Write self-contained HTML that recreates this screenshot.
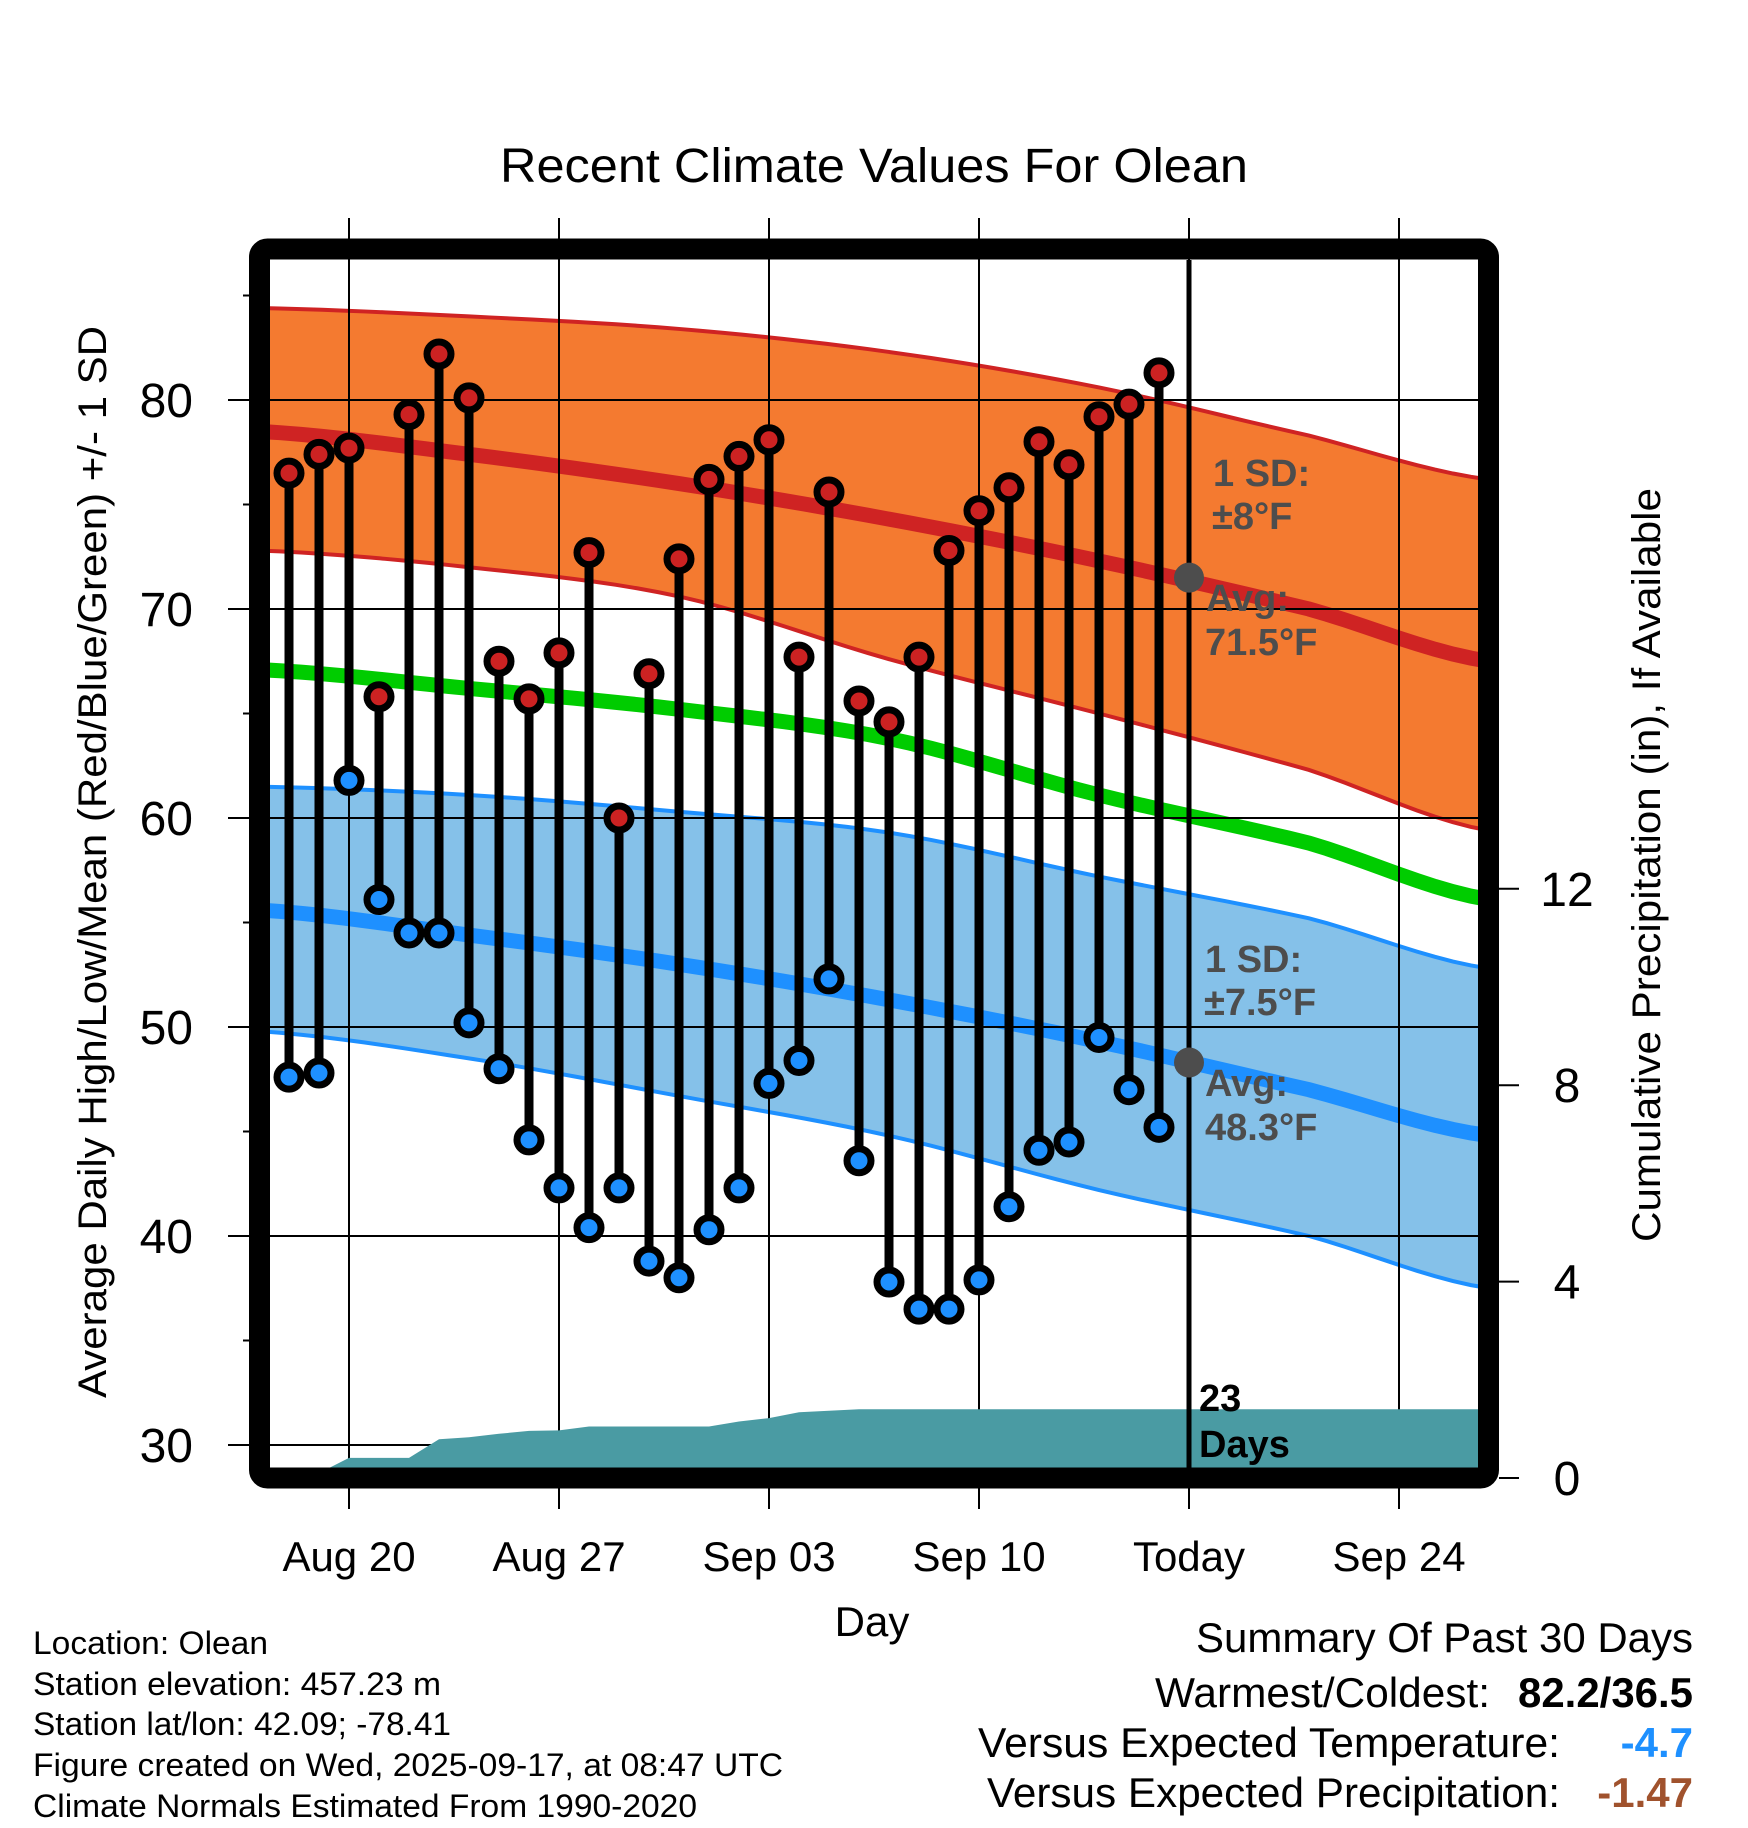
<!DOCTYPE html>
<html><head><meta charset="utf-8"><style>
html,body{margin:0;padding:0;background:#fff;}
svg{display:block;font-family:"Liberation Sans",Arial,sans-serif;}
</style></head><body>
<svg id="chart" width="1748" height="1828" viewBox="0 0 1748 1828">
<defs><clipPath id="plotclip"><rect x="270" y="260" width="1208" height="1208"/></clipPath></defs>
<g id="bands" clip-path="url(#plotclip)"></g>
<g id="grid"></g>
<g id="precip" clip-path="url(#plotclip)"></g>
<g id="stems"></g>
<g id="annot"></g>
<rect x="259.5" y="249" width="1229" height="1229" rx="8" fill="none" stroke="#000" stroke-width="21"/>
<g id="axes"></g>
<text x="874" y="182" font-size="48" text-anchor="middle" textLength="748" lengthAdjust="spacingAndGlyphs">Recent Climate Values For Olean</text>
<text transform="translate(106,862) rotate(-90)" font-size="40" text-anchor="middle" textLength="1072" lengthAdjust="spacingAndGlyphs">Average Daily High/Low/Mean (Red/Blue/Green) +/- 1 SD</text>
<text transform="translate(1660,865) rotate(-90)" font-size="40" text-anchor="middle" textLength="754" lengthAdjust="spacingAndGlyphs">Cumulative Precipitation (in), If Available</text>
<text x="872" y="1636" font-size="42" text-anchor="middle">Day</text>
<g font-size="32">
<text x="33" y="1654" textLength="235" lengthAdjust="spacingAndGlyphs">Location: Olean</text>
<text x="33" y="1695" textLength="408" lengthAdjust="spacingAndGlyphs">Station elevation: 457.23 m</text>
<text x="33" y="1735" textLength="418" lengthAdjust="spacingAndGlyphs">Station lat/lon: 42.09; -78.41</text>
<text x="33" y="1776" textLength="750" lengthAdjust="spacingAndGlyphs">Figure created on Wed, 2025-09-17, at 08:47 UTC</text>
<text x="33" y="1817" textLength="664" lengthAdjust="spacingAndGlyphs">Climate Normals Estimated From 1990-2020</text>
</g>
<g font-size="42">
<text x="1693" y="1652" text-anchor="end" textLength="497" lengthAdjust="spacingAndGlyphs">Summary Of Past 30 Days</text>
<text x="1490" y="1707" text-anchor="end" textLength="335" lengthAdjust="spacingAndGlyphs">Warmest/Coldest:</text>
<text x="1693" y="1707" text-anchor="end" font-weight="bold" textLength="175" lengthAdjust="spacingAndGlyphs">82.2/36.5</text>
<text x="1560" y="1757" text-anchor="end" textLength="582" lengthAdjust="spacingAndGlyphs">Versus Expected Temperature:</text>
<text x="1693" y="1757" text-anchor="end" font-weight="bold" fill="#1e90ff">-4.7</text>
<text x="1560" y="1807" text-anchor="end" textLength="573" lengthAdjust="spacingAndGlyphs">Versus Expected Precipitation:</text>
<text x="1693" y="1807" text-anchor="end" font-weight="bold" fill="#a0522d">-1.47</text>
</g>
</svg>
<script>
// Normals sampled at day offsets from Aug 17
const normalDays = [0, 7, 14, 21, 28, 35, 41];
const highUpper = [84.4, 84.0, 83.4, 82.3, 80.6, 78.3, 76.2];
const highAvg   = [78.5, 77.4, 76.0, 74.3, 72.3, 70.0, 67.5];
const highLower = [72.8, 72.0, 70.6, 67.6, 65.0, 62.3, 59.4];
const meanAvg   = [67.1, 66.2, 65.2, 63.8, 61.1, 58.8, 56.1];
const lowUpper  = [61.5, 61.1, 60.3, 59.3, 57.2, 55.2, 52.8];
const lowAvg    = [55.6, 54.4, 53.0, 51.3, 49.3, 47.0, 44.8];
const lowLower  = [49.8, 48.5, 46.7, 44.8, 42.2, 40.0, 37.5];
// Observed days Aug 18 .. Sep 16
const obsDays = [1,2,3,4,5,6,7,8,9,10,11,12,13,14,15,16,17,18,19,20,21,22,23,24,25,26,27,28,29,30];
const highs = [76.5,77.4,77.7,65.8,79.3,82.2,80.1,67.5,65.7,67.9,72.7,60.0,66.9,72.4,76.2,77.3,78.1,67.7,75.6,65.6,64.6,67.7,72.8,74.7,75.8,78.0,76.9,79.2,79.8,81.3];
const lows  = [47.6,47.8,61.8,56.1,54.5,54.5,50.2,48.0,44.6,42.3,40.4,42.3,38.8,38.0,40.3,42.3,47.3,48.4,52.3,43.6,37.8,36.5,36.5,37.9,41.4,44.1,44.5,49.5,47.0,45.2];
const precipCum = [0,0.1,0.41,0.41,0.41,0.79,0.83,0.90,0.96,0.97,1.05,1.05,1.05,1.05,1.05,1.15,1.22,1.34,1.37,1.40,1.40,1.40,1.40,1.40,1.40,1.40,1.40,1.40,1.40,1.40];
const yTicks = [30,40,50,60,70,80];
const yMinor = [35,45,55,65,75,85];
const precipTicks = [0,4,8,12];
const xTickDays = [3,10,17,24,31,38];
const xTickLabels = ["Aug 20","Aug 27","Sep 03","Sep 10","Today","Sep 24"];
const todayDay = 31;
const todayHigh = 71.5, todayLow = 48.3;

const NS = "http://www.w3.org/2000/svg";
const X = d => 259 + 30 * d;
const Y = t => 400 + (80 - t) * 20.9;
const YP = p => 1478 - p * 49.1;
function mk(tag, attrs, parent) {
  const e = document.createElementNS(NS, tag);
  for (const k in attrs) e.setAttribute(k, attrs[k]);
  parent.appendChild(e);
  return e;
}
// smooth (Catmull-Rom) sampling of a normals series for rendering
function smooth(vals) {
  const out = [];
  const n = normalDays.length;
  for (let i = 0; i < n - 1; i++) {
    const d0 = normalDays[i], d1 = normalDays[i+1];
    const p0 = vals[Math.max(i-1,0)], p1 = vals[i], p2 = vals[i+1], p3 = vals[Math.min(i+2,n-1)];
    const steps = 10;
    for (let s = 0; s < steps; s++) {
      const t = s / steps;
      const v = 0.5*((2*p1) + (-p0+p2)*t + (2*p0-5*p1+4*p2-p3)*t*t + (-p0+3*p1-3*p2+p3)*t*t*t);
      out.push([X(d0 + (d1-d0)*t), Y(v)]);
    }
  }
  out.push([X(normalDays[n-1]), Y(vals[n-1])]);
  return out;
}
const bands = document.getElementById('bands');
function line(vals) { return smooth(vals).map(p=>p[0]+','+p[1]).join(' '); }
function band(up, lo, fill, edge, name) {
  const pts = smooth(up).concat(smooth(lo).reverse()).map(p=>p[0]+','+p[1]);
  const p = mk('polygon', {points: pts.join(' '), fill: fill}, bands);
  
  
  [up, lo].forEach(v => {
    const l = mk('polyline', {points: line(v), fill: 'none', stroke: edge, 'stroke-width': 4}, bands);
    
    
  });
}
band(highUpper, highLower, '#f47a30', '#cf2323', 'high-sd-band');
band(lowUpper, lowLower, '#85c1e9', '#1e90ff', 'low-sd-band');
[[highAvg,'#cf2323','normal-high-line'],[meanAvg,'#00cc00','normal-mean-line'],[lowAvg,'#1e90ff','normal-low-line']].forEach(a => {
  const l = mk('polyline', {points: line(a[0]), fill: 'none', stroke: a[1], 'stroke-width': 15}, bands);
  
  
});

const grid = document.getElementById('grid');
yTicks.forEach(t => {
  const l = mk('line', {x1: 228, x2: 1478, y1: Y(t), y2: Y(t), stroke: '#000', 'stroke-width': 2}, grid);
  
  
});
xTickDays.forEach(d => {
  const l = mk('line', {x1: X(d), x2: X(d), y1: 218, y2: 1509, stroke: '#000', 'stroke-width': 2}, grid);
  
  
});

const precip = document.getElementById('precip');
const pp = ['270,' + YP(0), X(0) + ',' + YP(0)].concat(obsDays.map((d,i)=>X(d)+','+YP(precipCum[i])));
pp.push('1480,' + YP(precipCum[precipCum.length-1]), '1480,' + YP(0));
const pa = mk('polygon', {points: pp.join(' '), fill: '#4a9ba3'}, precip);



const stems = document.getElementById('stems');
obsDays.forEach((d,i) => {
  const s = mk('line', {x1: X(d), x2: X(d), y1: Y(highs[i]), y2: Y(lows[i]), stroke: '#000', 'stroke-width': 9}, stems);
  
  
  const h = mk('circle', {cx: X(d), cy: Y(highs[i]), r: 12, fill: '#cc2222', stroke: '#000', 'stroke-width': 7}, stems);
  
  
  const lo = mk('circle', {cx: X(d), cy: Y(lows[i]), r: 12, fill: '#1e90ff', stroke: '#000', 'stroke-width': 7}, stems);
  
  
});

const annot = document.getElementById('annot');
const tl = mk('line', {x1: X(todayDay), x2: X(todayDay), y1: 260, y2: 1468, stroke: '#000', 'stroke-width': 5}, annot);


[todayHigh, todayLow].forEach(v => {
  const c = mk('circle', {cx: X(todayDay), cy: Y(v), r: 15, fill: '#4d4d4d'}, annot);
  
  
});
function txt(x, y, s, attrs, name) {
  const t = mk('text', Object.assign({x: x, y: y}, attrs), annot);
  t.textContent = s;
  
  
  return t;
}
const g = {'font-size': 38, 'font-weight': 'bold', fill: '#4d4d4d'};
txt(1213, 486, '1 SD:', g, 'high-sd-label');
txt(1212, 529, '±8°F', g, 'high-sd-value');
txt(1206, 611, 'Avg:', g, 'high-avg-label');
txt(1205, 655, todayHigh.toFixed(1) + '°F', g, 'high-avg-value');
txt(1205, 972, '1 SD:', g, 'low-sd-label');
txt(1204, 1015, '±7.5°F', g, 'low-sd-value');
txt(1205, 1096, 'Avg:', g, 'low-avg-label');
txt(1205, 1140, todayLow.toFixed(1) + '°F', g, 'low-avg-value');
const k = {'font-size': 38, 'font-weight': 'bold', fill: '#000'};
txt(1199, 1411, '23', k, 'days-count');
txt(1199, 1457, 'Days', k, 'days-label');

const axes = document.getElementById('axes');
yTicks.forEach(t => {
  const e = mk('text', {x: 193, y: Y(t) + 17, 'font-size': 48, 'text-anchor': 'end'}, axes);
  e.textContent = t;
  
  
});
yMinor.forEach(t => {
  const e = mk('line', {x1: 243, x2: 250, y1: Y(t), y2: Y(t), stroke: '#000', 'stroke-width': 2}, axes);
  
  
});
precipTicks.forEach(p => {
  const l = mk('line', {x1: 1499, x2: 1519, y1: YP(p), y2: YP(p), stroke: '#000', 'stroke-width': 2}, axes);
  
  
  const e = mk('text', {x: 1567, y: YP(p) + 17, 'font-size': 48, 'text-anchor': 'middle'}, axes);
  e.textContent = p;
  
  
});
xTickDays.forEach((d,i) => {
  const e = mk('text', {x: X(d), y: 1571, 'font-size': 42, 'text-anchor': 'middle'}, axes);
  e.textContent = xTickLabels[i];
  
  
});
</script>
</body></html>
